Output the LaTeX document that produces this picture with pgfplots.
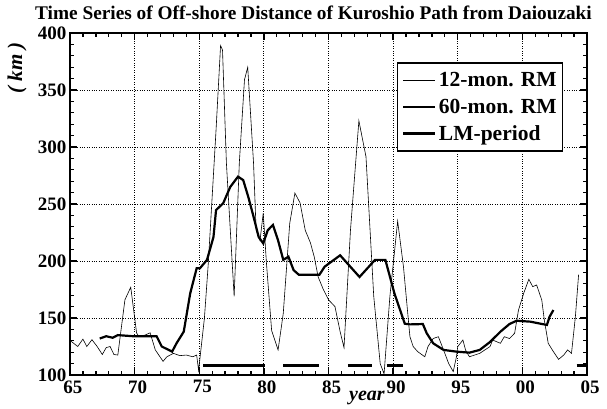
\documentclass[border=0pt]{standalone}
\usepackage{fontspec}
\setmainfont{Liberation Serif}
\usepackage{pgfplots}
\pgfplotsset{compat=1.18}
\begin{document}
\begin{tikzpicture}
\begin{axis}[
  scale only axis, width=517pt, height=342pt,
  xmin=65, xmax=105, ymin=100, ymax=400,
  xtick={65,70,75,80,85,90,95,100,105},
  xticklabels={65,70,75,80,85,90,95,00,05},
  ytick={100,150,200,250,300,350,400},
  yticklabels={100,150,200,250,300,350,400},
  minor x tick num=4, minor y tick num=4,
  tick align=inside,
  major tick length=7pt, minor tick length=4pt,
  every tick/.style={black, line width=1.3pt},
  axis line style={line width=2pt},
  grid=major, major grid style={dotted, black, line width=0.8pt},
  ticklabel style={font=\bfseries\fontsize{19}{19}\selectfont},
  xticklabel style={yshift=-2pt, xshift=3pt},
  yticklabel style={xshift=0pt},
  clip=true,
  legend style={at={(0.634,0.912)}, anchor=north west, draw=black, line width=1.2pt,
    font=\bfseries\fontsize{21.5}{24}\selectfont, inner xsep=4pt, inner ysep=7pt, row sep=7pt,
    cells={anchor=west}, outer sep=0pt},
  legend image code/.code={\draw[#1] (0pt,0pt) -- (32pt,0pt);},
]
% 12-mon RM
\addplot[black, line width=0.6pt] coordinates {
(65.0,131) (65.15,129) (65.6,125) (66.0,131.5) (66.3,125) (66.7,131) (67.1,125)
(67.5,118) (67.8,124) (68.1,125) (68.4,118) (68.7,117.5) (69.25,166) (69.7,177)
(70.15,137) (70.3,134) (70.8,135) (71.2,137) (71.6,122) (72.2,112) (72.5,116)
(73.0,119) (73.5,117) (74.0,117.5) (74.5,116) (74.8,117.5) (74.95,104) (75.4,150)
(75.7,198) (76.3,315) (76.65,389) (76.8,385) (77.1,286) (77.7,169) (78.1,286)
(78.5,359) (78.75,370) (79.2,286) (79.4,227) (79.7,218) (79.95,242) (80.2,198)
(80.6,139) (81.1,122) (81.5,154) (82.0,233) (82.4,259.6) (82.8,251) (83.2,227)
(83.6,216) (83.9,203.5) (84.2,186) (84.6,175) (85.0,166) (85.5,160) (85.9,138)
(86.2,124) (86.7,227) (87.35,323) (87.9,291.5) (88.5,169) (89.0,110) (89.3,101)
(89.75,169) (90.35,235) (90.8,195) (91.2,145.6) (91.3,133.6) (91.55,125) (91.9,120.5)
(92.45,116) (92.7,125) (93.1,132) (93.5,133.6) (93.9,122) (94.3,110) (94.65,103)
(94.9,116) (95.0,125) (95.4,130.7) (95.6,122) (95.9,116) (96.3,117.5) (96.7,119)
(97.1,122) (97.5,125) (97.7,130.7) (98.3,127.8) (98.6,133.6) (99.0,132) (99.4,136.6)
(99.7,157) (100.1,171.6) (100.5,184) (100.8,177.5) (101.1,179) (101.5,165.8) (101.7,148)
(102.0,127.8) (102.4,120.5) (102.8,113.7) (103.2,117.5) (103.5,122) (103.8,119)
(104.1,151) (104.35,188)
};
\addlegendentry{12-mon. RM}
% 60-mon RM
\addplot[black, line width=2.2pt, legend image post style={line width=1.6pt}] coordinates {
(67.3,132) (67.8,134) (68.3,132.7) (68.7,135) (69.9,134) (71.7,134) (72.1,125)
(72.9,120.5) (73.25,128) (73.8,138) (74.3,171.6) (74.8,193.6) (75.05,193.6) (75.6,201)
(76.1,221) (76.3,244.7) (76.85,250.6) (77.4,265) (78.0,274) (78.4,271) (78.8,256)
(79.2,238.9) (79.6,221) (79.95,215.5) (80.3,227) (80.7,231.6) (81.1,218) (81.5,201)
(81.9,203.8) (82.3,192) (82.7,188) (84.3,188) (84.7,195) (85.9,205) (87.4,186)
(88.6,201) (89.4,201) (90.1,171.6) (90.9,145) (91.3,144.4) (92.3,144.7) (92.6,136.6)
(93.1,127.8) (93.9,122) (94.9,120.5) (95.9,119.6) (96.7,122) (97.5,129) (98.3,138)
(99.0,144.7) (99.55,147.6) (100.6,146.8) (101.9,143.9) (102.1,151) (102.4,157)
};
\addlegendentry{60-mon. RM}
% LM-period
\addplot[black, line width=3.2pt, unbounded coords=jump] coordinates {
(75.3,108) (80.1,108) (80.5,nan)
(81.5,108) (84.3,108) (84.5,nan)
(86.5,108) (88.4,108) (88.6,nan)
(89.5,108) (90.8,108) (91,nan)
(104.2,108) (105,108)
};
\addlegendentry{LM-period}
\end{axis}
\node[font=\bfseries\fontsize{19.3}{20}\selectfont, anchor=south] at ([xshift=-15pt,yshift=10pt]current axis.north) {Time Series of Off-shore Distance of Kuroshio Path from Daiouzaki};
\node[font=\bfseries\itshape\fontsize{21}{21}\selectfont, rotate=90] at ([xshift=-53pt,yshift=-35pt]current axis.north west) {( km )};
\node[font=\bfseries\itshape\fontsize{20}{20}\selectfont] at ([xshift=297pt,yshift=-23pt]current axis.south west) {year};
\path ([xshift=-70pt,yshift=-32pt]current axis.south west) rectangle ([xshift=20pt,yshift=33pt]current axis.north east);
\end{tikzpicture}
\end{document}
